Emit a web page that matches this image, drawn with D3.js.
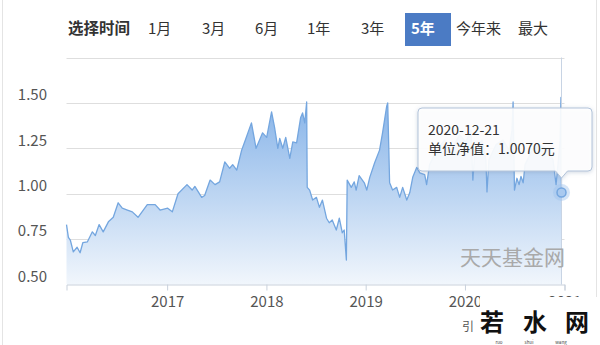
<!DOCTYPE html>
<html>
<head>
<meta charset="utf-8">
<script src="https://cdn.jsdelivr.net/npm/d3@7"></script>
<style>
  body { margin: 0; background: #fff; }
  svg { display: block; font-family: "Noto Sans CJK SC", "Noto Sans", sans-serif; }
</style>
</head>
<body>
<svg id="chart"></svg>
<script>
// ranges in the top bar
const ranges = ["1月", "3月", "6月", "1年", "3年", "5年", "今年来", "最大"];
const activeRange = "5年";

// net value per share
const dates = [
  "2015-12-28","2016-01-04","2016-01-11","2016-01-22","2016-02-05","2016-02-16","2016-02-26","2016-03-14","2016-04-01","2016-04-12","2016-04-26","2016-05-11","2016-05-30","2016-06-17","2016-07-05","2016-07-20","2016-08-08","2016-08-26","2016-09-16","2016-10-20","2016-11-18","2016-12-06",
  "2017-01-03","2017-01-20","2017-02-10","2017-03-15","2017-04-03","2017-04-13","2017-05-08","2017-05-19","2017-06-08","2017-06-26","2017-07-13","2017-08-01","2017-08-19","2017-08-30","2017-09-14","2017-10-02","2017-10-13","2017-11-07","2017-11-24","2017-12-18",
  "2018-01-02","2018-01-20","2018-01-31","2018-02-12","2018-02-19","2018-03-02","2018-03-13","2018-03-28","2018-04-08","2018-04-22","2018-05-07","2018-05-14","2018-05-22","2018-05-29","2018-05-31","2018-06-09","2018-06-20","2018-07-04","2018-07-15","2018-07-26","2018-08-10","2018-08-20","2018-08-31","2018-09-15","2018-09-26","2018-10-07","2018-10-14","2018-10-22","2018-10-25","2018-11-09","2018-11-20","2018-11-27","2018-12-08","2018-12-27",
  "2019-01-05","2019-01-16","2019-02-03","2019-02-21","2019-03-04","2019-03-19","2019-03-23","2019-03-30","2019-04-10","2019-04-25","2019-05-06","2019-05-17","2019-06-01","2019-06-12","2019-06-23","2019-07-08","2019-07-19","2019-08-06","2019-08-13","2019-08-24","2019-09-19","2019-10-18","2019-11-12","2019-12-12",
  "2020-01-04","2020-01-23","2020-01-30","2020-02-07","2020-03-04","2020-03-18","2020-03-22","2020-03-29","2020-04-24","2020-05-20","2020-06-11","2020-06-22","2020-06-26","2020-07-01","2020-07-10","2020-07-18","2020-07-25","2020-08-02","2020-08-09","2020-09-04","2020-10-03","2020-11-02","2020-11-20","2020-12-01","2020-12-08","2020-12-16","2020-12-19","2020-12-21"
];
const navs = [
  0.83,0.76,0.745,0.68,0.705,0.675,0.73,0.735,0.79,0.77,0.83,0.79,0.845,0.87,0.95,0.92,0.91,0.90,0.87,0.94,0.94,0.91,
  0.92,0.90,1.00,1.05,1.02,1.04,0.98,0.99,1.075,1.05,1.065,1.175,1.14,1.16,1.13,1.24,1.285,1.39,1.25,1.335,
  1.31,1.45,1.365,1.25,1.305,1.25,1.31,1.195,1.285,1.28,1.42,1.445,1.39,1.505,1.035,1.02,0.965,0.98,0.925,0.965,0.865,0.84,0.855,0.80,0.865,0.785,0.80,0.635,1.075,1.035,1.065,1.02,1.10,1.06,
  1.02,1.09,1.17,1.24,1.335,1.48,1.50,1.06,1.02,1.035,0.98,1.035,0.965,1.005,1.09,1.145,1.115,1.105,1.05,1.16,1.24,1.295,1.24,1.325,
  1.285,1.35,1.075,1.24,1.295,1.185,1.01,1.185,1.27,1.295,1.24,1.35,1.505,1.02,1.085,1.05,1.095,1.06,1.16,1.24,1.27,1.24,1.185,1.05,1.16,1.295,1.53,1.007
];

const yTicks = [0.5, 0.75, 1.0, 1.25, 1.5, 1.75];
const yLabels = ["0.50", "0.75", "1.00", "1.25", "1.50", ""];
const xTicks = ["2017-01-01", "2018-01-01", "2019-01-01", "2020-01-01", "2021-01-01"];
const tipDate = "2020-12-21";
const tipValue = "1.0070";

const width = 600, height = 345;
const plot = { left: 66.5, right: 564.5, top: 57.5, bottom: 284.5 };

const parse = d3.timeParse("%Y-%m-%d");
const data = dates.map((d, i) => ({ date: parse(d), v: navs[i] }));

const svg = d3.select("#chart").attr("width", width).attr("height", height);
const defs = svg.append("defs");

// outer frame
svg.append("rect")
  .attr("x", 2.5).attr("y", -1).attr("width", 594).attr("height", height + 2)
  .attr("fill", "none").attr("stroke", "#e4e4e4");

// top bar
const bar = svg.append("g");
bar.append("text").attr("x", 68).attr("y", 34)
  .attr("font-size", 15.5).attr("font-weight", "bold").attr("fill", "#333")
  .text("选择时间");
const tabX = [148, 202, 255, 307, 361, 411, 456, 518];
ranges.forEach((r, i) => {
  if (r === activeRange) {
    bar.append("rect").attr("x", 405).attr("y", 13).attr("width", 46).attr("height", 33)
      .attr("fill", "#4b7bc4");
  }
  bar.append("text").attr("x", tabX[i]).attr("y", 34)
    .attr("font-size", 15)
    .attr("font-weight", r === activeRange ? "bold" : "normal")
    .attr("fill", r === activeRange ? "#fff" : "#333")
    .text(r);
});

const x = d3.scaleTime()
  .domain([parse("2015-12-28"), parse("2021-01-01")])
  .range([plot.left, plot.right]);
const y = d3.scaleLinear().domain([0.5, 1.75]).range([plot.bottom, plot.top]);

// grid lines
svg.append("g").selectAll("line")
  .data(yTicks.slice(1))
  .join("line")
  .attr("x1", plot.left).attr("x2", plot.right)
  .attr("y1", d => Math.round(y(d)) + 0.5).attr("y2", d => Math.round(y(d)) + 0.5)
  .attr("stroke", "#dedede");

// y labels (sit a bit above their lines in the picture)
svg.append("g").selectAll("text")
  .data(yTicks)
  .join("text")
  .attr("x", 47).attr("y", d => y(d) - 8)
  .attr("dy", "0.35em")
  .attr("text-anchor", "end")
  .attr("font-size", 15).attr("fill", "#555")
  .text((d, i) => yLabels[i]);

// gradient fill
const grad = defs.append("linearGradient").attr("id", "fillGrad")
  .attr("gradientUnits", "userSpaceOnUse")
  .attr("x1", 0).attr("x2", 0).attr("y1", y(1.5)).attr("y2", plot.bottom);
grad.append("stop").attr("offset", 0).attr("stop-color", "#89b5e9");
grad.append("stop").attr("offset", 0.55).attr("stop-color", "#c1d8f3");
grad.append("stop").attr("offset", 1).attr("stop-color", "#f1f6fc");

const area = d3.area()
  .x(d => x(d.date))
  .y0(plot.bottom)
  .y1(d => y(d.v));
const line = d3.line()
  .x(d => x(d.date))
  .y(d => y(d.v));

svg.append("path").datum(data).attr("d", area).attr("fill", "url(#fillGrad)");
svg.append("path").datum(data).attr("d", line)
  .attr("fill", "none").attr("stroke", "#74a6df").attr("stroke-width", 1.3)
  .attr("stroke-linejoin", "round");

// axis pointer at the hovered point
const last = data[data.length - 1];
svg.append("line")
  .attr("x1", x(last.date)).attr("x2", x(last.date))
  .attr("y1", plot.top).attr("y2", plot.bottom)
  .attr("stroke", "#c8d4e4").attr("stroke-width", 1);

// x axis
const xAxis = svg.append("g")
  .attr("transform", `translate(0,${plot.bottom})`)
  .call(d3.axisBottom(x)
    .tickValues(xTicks.map(parse))
    .tickFormat(d3.timeFormat("%Y"))
    .tickSizeOuter(0)
    .tickSize(6)
    .tickPadding(6));
xAxis.select(".domain").attr("stroke", "#c9d1dc");
xAxis.selectAll(".tick line").attr("stroke", "#c9d1dc");
xAxis.selectAll(".tick text")
  .attr("font-size", 15).attr("fill", "#555")
  .attr("font-family", "\"Noto Sans CJK SC\", \"Noto Sans\", sans-serif");

// site watermark inside the plot
svg.append("text").attr("x", 565).attr("y", 265)
  .attr("text-anchor", "end").attr("font-size", 21).attr("fill", "#a9a9a9")
  .text("天天基金网");

// hovered point
svg.append("circle").attr("cx", x(last.date)).attr("cy", y(last.v)).attr("r", 8.5)
  .attr("fill", "#9fc3ee").attr("opacity", 0.45);
svg.append("circle").attr("cx", x(last.date)).attr("cy", y(last.v)).attr("r", 4.5)
  .attr("fill", "#a9c9ef").attr("stroke", "#74a6df").attr("stroke-width", 1.5);

// tooltip
const tip = svg.append("g");
const tx0 = 418, ty0 = 108, tw = 174, th = 63;
const ax = x(last.date);
const tipPath = `M${tx0 + 4},${ty0} H${tx0 + tw - 4} Q${tx0 + tw},${ty0} ${tx0 + tw},${ty0 + 4}` +
  ` V${ty0 + th - 4} Q${tx0 + tw},${ty0 + th} ${tx0 + tw - 4},${ty0 + th}` +
  ` H${ax + 6} L${ax},${ty0 + th + 7} L${ax - 6},${ty0 + th}` +
  ` H${tx0 + 4} Q${tx0},${ty0 + th} ${tx0},${ty0 + th - 4} V${ty0 + 4} Q${tx0},${ty0} ${tx0 + 4},${ty0} Z`;
defs.append("filter").attr("id", "shadow").attr("x", -0.1).attr("y", -0.2).attr("width", 1.2).attr("height", 1.5)
  .append("feDropShadow").attr("dx", 0).attr("dy", 1).attr("stdDeviation", 2)
  .attr("flood-color", "#7f95b3").attr("flood-opacity", 0.4);
tip.append("path").attr("d", tipPath)
  .attr("fill", "rgba(255,255,255,0.9)").attr("stroke", "#b3c4da").attr("stroke-width", 1)
  .attr("filter", "url(#shadow)");
tip.append("text").attr("x", 428).attr("y", 135).attr("font-size", 14).attr("fill", "#333")
  .text(tipDate);
tip.append("text").attr("x", 428).attr("y", 154).attr("font-size", 14).attr("fill", "#333")
  .text(`单位净值：${tipValue}元`);

// partly covered caption under the axis
svg.append("text").attr("x", 462).attr("y", 331).attr("font-size", 12).attr("fill", "#555")
  .text("引");

// pasted watermark box, covering the lower right of the axis
const wm = svg.append("g");
wm.append("rect").attr("x", 480).attr("y", 297).attr("width", 120).attr("height", 48).attr("fill", "#fff");
[["若", 492], ["水", 535], ["网", 577]].forEach(([c, cx]) => {
  wm.append("text").attr("x", cx).attr("y", 331).attr("text-anchor", "middle")
    .attr("font-size", 24).attr("font-weight", "bold").attr("fill", "#111")
    .text(c);
});
[["ruo", 499], ["shui", 529], ["wang", 561]].forEach(([c, cx]) => {
  wm.append("text").attr("x", cx).attr("y", 344).attr("text-anchor", "middle")
    .attr("font-size", 4.5).attr("fill", "#444")
    .text(c);
});
</script>
</body>
</html>
